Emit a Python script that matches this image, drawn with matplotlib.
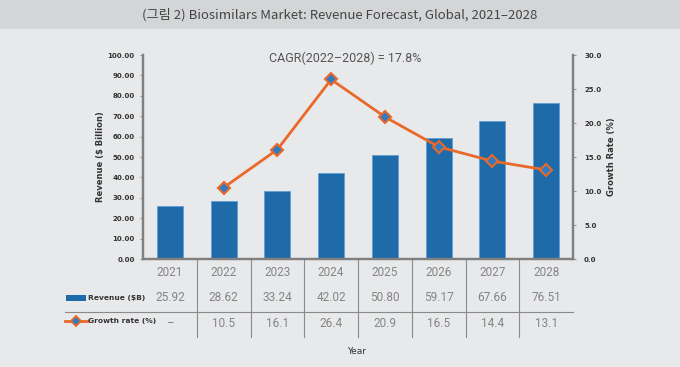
import matplotlib.pyplot as plt
from matplotlib.patches import Rectangle
from matplotlib.lines import Line2D

years = ['2021', '2022', '2023', '2024', '2025', '2026', '2027', '2028']
revenue = [25.92, 28.62, 33.24, 42.02, 50.80, 59.17, 67.66, 76.51]
growth = [None, 10.5, 16.1, 26.4, 20.9, 16.5, 14.4, 13.1]
revenue_labels = ['25.92', '28.62', '33.24', '42.02', '50.80', '59.17', '67.66', '76.51']
growth_labels = ['–', '10.5', '16.1', '26.4', '20.9', '16.5', '14.4', '13.1']

bar_color = '#1f6aa8'
line_color = '#e8692a'
marker_face = '#2f7cc4'
spine_color = '#808080'
bg = '#e8e9eb'

plt.rcParams['font.family'] = ['Noto Sans CJK KR', 'DejaVu Sans']

fig = plt.figure(figsize=(6.8, 3.67), dpi=100)
fig.patch.set_facecolor(bg)

# title band
fig.add_artist(Rectangle((0, 1 - 29 / 367), 1, 29 / 367, transform=fig.transFigure,
                         facecolor='#d4d5d7', edgecolor='none', zorder=0))
fig.text(0.5, 1 - 15 / 367, '(그림 2) Biosimilars Market: Revenue Forecast, Global, 2021–2028',
         ha='center', va='center', fontsize=9.5, color='#444444')

ax = fig.add_axes([143 / 680, 1 - 259 / 367, 430 / 680, 204 / 367])
ax.set_facecolor('none')
x = list(range(len(years)))
ax.bar(x, revenue, width=0.48, color=bar_color, edgecolor='#5f9fd6', linewidth=0.6, zorder=2)
ax.set_xlim(-0.5, len(years) - 0.5)
ax.set_ylim(0, 100)
ax.set_yticks(range(0, 101, 10))
ax.set_yticklabels([f'{v:.2f}' for v in range(0, 101, 10)], fontsize=5, color='#333333',
                   fontweight='bold', family='DejaVu Sans')
ax.set_xticks([])
ax.set_ylabel('Revenue ($ Billion)', fontsize=6, fontweight='bold', color='#333333',
              family='DejaVu Sans', labelpad=2)
ax.tick_params(axis='y', length=2, color=spine_color, width=0.6, pad=4)

ax2 = ax.twinx()
gx = [i for i, g in zip(x, growth) if g is not None]
gy = [g for g in growth if g is not None]
ax2.plot(gx, gy, color=line_color, lw=2, marker='D', markersize=6,
         markerfacecolor=marker_face, markeredgecolor=line_color, markeredgewidth=1.5, zorder=3)
ax2.set_ylim(0, 30)
ax2.set_yticks(range(0, 31, 5))
ax2.set_yticklabels([f'{v:.1f}' for v in range(0, 31, 5)], fontsize=5, color='#333333',
                    fontweight='bold', family='DejaVu Sans')
ax2.set_ylabel('Growth Rate (%)', fontsize=6, fontweight='bold', color='#333333',
               family='DejaVu Sans', labelpad=4)
ax2.tick_params(axis='y', length=2, color=spine_color, width=0.6, pad=6)

for a in (ax, ax2):
    a.spines['top'].set_visible(False)
    for s in ('left', 'right', 'bottom'):
        a.spines[s].set_color(spine_color)
        a.spines[s].set_linewidth(1.6)

ax.text(0.47, 0.985, 'CAGR(2022–2028) = 17.8%', transform=ax.transAxes, ha='center',
        va='center', fontsize=9, color='#555555', family='Roboto')

# data table under the chart
tr = ax.get_xaxis_transform()
row_year, row_rev, row_line, row_grow, row_end = -0.068, -0.19, -0.26, -0.314, -0.382
cell_style = dict(transform=tr, ha='center', va='center', fontsize=8.5, color='#858585',
                  family='Roboto', clip_on=False)
for i in x:
    ax.text(i, row_year, years[i], **cell_style)
    ax.text(i, row_rev, revenue_labels[i], **cell_style)
    ax.text(i, row_grow, growth_labels[i], **cell_style)
for i in x[:-1]:
    ax.add_line(Line2D([i + 0.5, i + 0.5], [0, row_end], transform=tr, color='#8a8a8a',
                       lw=0.8, clip_on=False))

# horizontal separator across legend column and table
fig.add_artist(Line2D([65 / 680, 573 / 680], [1 - 312 / 367] * 2, transform=fig.transFigure,
                      color='#8a8a8a', lw=0.8))

# legend keys in the table
fig.add_artist(Rectangle((66 / 680, 1 - 301 / 367), 20 / 680, 6 / 367, transform=fig.transFigure,
                         facecolor=bar_color, edgecolor='none'))
fig.text(88 / 680, 1 - 298 / 367, 'Revenue ($B)', ha='left', va='center', fontsize=5.4,
         fontweight='bold', color='#333333', family='DejaVu Sans')
fig.add_artist(Line2D([65 / 680, 88 / 680], [1 - 321 / 367] * 2, transform=fig.transFigure,
                      color=line_color, lw=2))
fig.add_artist(Line2D([76 / 680], [1 - 321 / 367], transform=fig.transFigure, marker='D',
                      markersize=5, markerfacecolor=marker_face, markeredgecolor=line_color,
                      markeredgewidth=1.3, lw=0))
fig.text(88 / 680, 1 - 321 / 367, 'Growth rate (%)', ha='left', va='center', fontsize=5.4,
         fontweight='bold', color='#333333', family='DejaVu Sans')

fig.text(357 / 680, 1 - 352 / 367, 'Year', ha='center', va='center', fontsize=6.5,
         color='#333333', family='DejaVu Sans')

fig.savefig('out.png', dpi=100, facecolor=fig.get_facecolor())
